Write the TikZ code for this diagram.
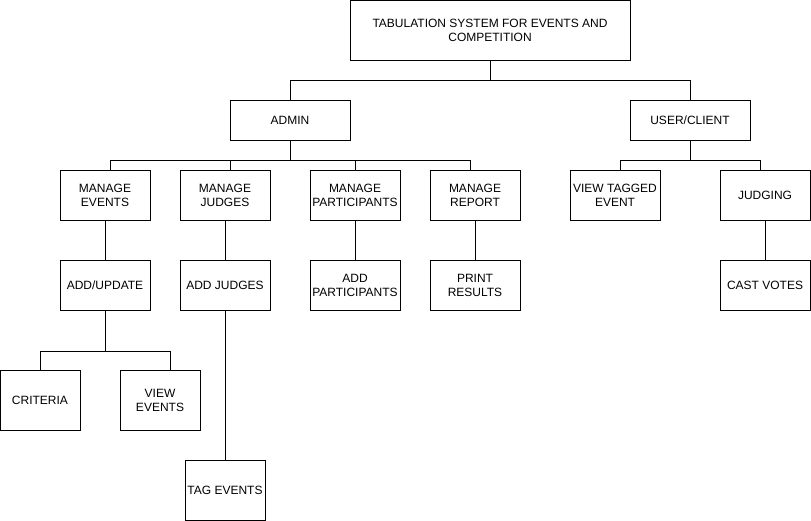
\documentclass[tikz,border=0pt]{standalone}
\usepackage{fontspec}
\setmainfont{Liberation Sans}
\usepackage{tikz}

\tikzset{
  caja/.style={draw, fill=white, line width=1pt, inner sep=0pt, align=center,
    font=\fontsize{12}{14.5}\selectfont},
  linea/.style={line width=1pt}
}

\begin{document}
\begin{tikzpicture}[x=1pt, y=-1pt]
\useasboundingbox (0,0) rectangle (811,521);

% Cajas: nivel 0 y 1
\node[caja, minimum width=280pt, minimum height=60pt] (root) at (490,30.5)
  {TABULATION SYSTEM FOR EVENTS AND\\COMPETITION};
\node[caja, minimum width=120pt, minimum height=40pt] (admin) at (290,120.5) {ADMIN};
\node[caja, minimum width=120pt, minimum height=40pt] (user) at (690,120.5) {USER/CLIENT};

% Nivel 2
\node[caja, minimum width=90pt, minimum height=50pt] (mevents) at (105,195.5) {MANAGE\\EVENTS};
\node[caja, minimum width=90pt, minimum height=50pt] (mjudges) at (225,195.5) {MANAGE\\JUDGES};
\node[caja, minimum width=90pt, minimum height=50pt] (mpart) at (355,195.5) {MANAGE\\PARTICIPANTS};
\node[caja, minimum width=90pt, minimum height=50pt] (mreport) at (475,195.5) {MANAGE\\REPORT};
\node[caja, minimum width=90pt, minimum height=50pt] (vtagged) at (615,195.5) {VIEW TAGGED\\EVENT};
\node[caja, minimum width=90pt, minimum height=50pt] (judging) at (765,195.5) {JUDGING};

% Nivel 3
\node[caja, minimum width=90pt, minimum height=50pt] (addupd) at (105,285.5) {ADD/UPDATE};
\node[caja, minimum width=90pt, minimum height=50pt] (addjudges) at (225,285.5) {ADD JUDGES};
\node[caja, minimum width=90pt, minimum height=50pt] (addpart) at (355,285.5) {ADD\\PARTICIPANTS};
\node[caja, minimum width=90pt, minimum height=50pt] (printres) at (475,285.5) {PRINT\\RESULTS};
\node[caja, minimum width=90pt, minimum height=50pt] (castvotes) at (765,285.5) {CAST VOTES};

% Nivel 4
\node[caja, minimum width=80pt, minimum height=60pt] (criteria) at (40,400.5) {CRITERIA};
\node[caja, minimum width=80pt, minimum height=60pt] (viewev) at (160,400.5) {VIEW\\EVENTS};
\node[caja, minimum width=80pt, minimum height=60pt] (tagev) at (225,490.5) {TAG EVENTS};

% Conectores en codo
\draw[linea] (root.south) -- ++(0,20) -| (admin.north);
\draw[linea] (root.south) -- ++(0,20) -| (user.north);

\draw[linea] (admin.south) -- ++(0,20) -| ([xshift=5pt]mevents.north);
\draw[linea] (admin.south) -- ++(0,20) -| ([xshift=5pt]mjudges.north);
\draw[linea] (admin.south) -- ++(0,20) -| (mpart.north);
\draw[linea] (admin.south) -- ++(0,20) -| ([xshift=-5pt]mreport.north);

\draw[linea] (user.south) -- ++(0,20) -| ([xshift=5pt]vtagged.north);
\draw[linea] (user.south) -- ++(0,20) -| ([xshift=-5pt]judging.north);

\draw[linea] (addupd.south) -- ++(0,40) -| (criteria.north);
\draw[linea] (addupd.south) -- ++(0,40) -| ([xshift=10pt]viewev.north);

% Conectores verticales
\foreach \a/\b in {mevents/addupd, mjudges/addjudges, mpart/addpart,
                   mreport/printres, judging/castvotes, addjudges/tagev}
  \draw[linea] (\a.south) -- (\b.north);
\end{tikzpicture}
\end{document}
